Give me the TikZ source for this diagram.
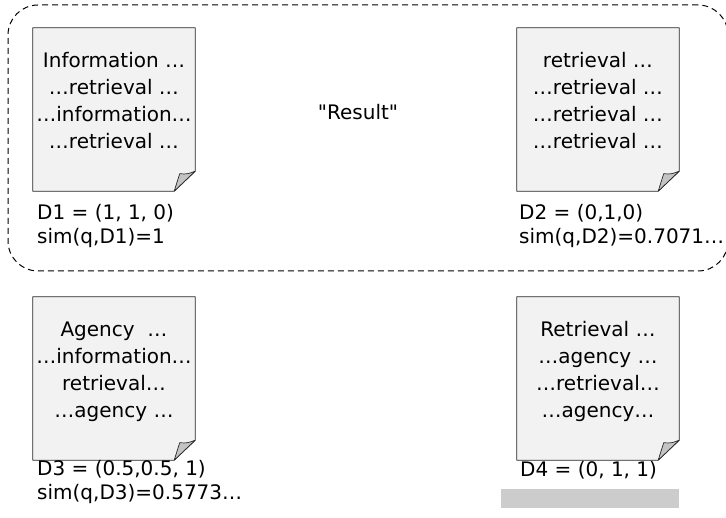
\documentclass[tikz,border=0pt]{standalone}
\usepackage{fontspec}
\setmainfont{DejaVu Sans}[Ligatures=TeXOff]
\usetikzlibrary{calc}
\definecolor{docfill}{HTML}{F2F2F2}
\definecolor{foldfill}{HTML}{C4C4C4}
\definecolor{blankfill}{HTML}{CCCCCC}
\newcommand\docshape[1]{%
  \filldraw[fill=docfill, draw=black!85, line width=0.8pt, line join=round]
    (#1.north west) -- (#1.north east) -- ([yshift=20pt]#1.south east)
    -- ([xshift=-21pt]#1.south east) -- (#1.south west) -- cycle;
  \filldraw[fill=foldfill, draw=black!85, line width=0.7pt, line join=round]
    ([xshift=-21pt]#1.south east)
    .. controls ([xshift=-18pt,yshift=8pt]#1.south east) .. ([xshift=-15.5pt,yshift=17.5pt]#1.south east)
    .. controls ([xshift=-8pt,yshift=17pt]#1.south east) .. ([yshift=20pt]#1.south east) -- cycle;
}
\begin{document}
\begin{tikzpicture}[x=1pt,y=-1pt,
  docbox/.style={rectangle, minimum width=162pt, minimum height=163pt, inner sep=0pt},
  doctext/.style={anchor=north, align=center, inner sep=0pt, font=\fontsize{20}{27}\selectfont},
  lbl/.style={anchor=base west, inner sep=0pt, font=\fontsize{20}{23}\selectfont},
  resultbox/.style={draw=black, dash pattern=on 6pt off 4pt, rounded corners=30pt, line width=1pt,
    minimum width=720pt, minimum height=266pt, inner sep=0pt},
  blankbox/.style={fill=blankfill, minimum width=178pt, minimum height=19pt, inner sep=0pt},
]
\useasboundingbox (0,0) rectangle (726,518);
\node[resultbox] (box) at (368,138) {};

\node[docbox] (d1) at (114,109.5) {};
\node[docbox] (d2) at (598,109.5) {};
\node[docbox] (d3) at (114,378.5) {};
\node[docbox] (d4) at (598,378.5) {};
\docshape{d1}
\docshape{d2}
\docshape{d3}
\docshape{d4}

\node[doctext] (t1) at ([yshift=-24.8pt]d1.north) {Information …\\…retrieval …\\…information…\\…retrieval …};
\node[doctext] (t2) at ([yshift=-24.8pt]d2.north) {retrieval …\\…retrieval …\\…retrieval …\\…retrieval …};
\node[doctext] (t3) at ([yshift=-24.8pt]d3.north) {Agency\ \ …\\…information…\\retrieval…\\…agency …};
\node[doctext] (t4) at ([yshift=-24.8pt]d4.north) {Retrieval …\\…agency …\\…retrieval…\\…agency…};

\node[font=\fontsize{20}{23}\selectfont, inner sep=0pt] (res) at (358,112) {"Result"};

\node[lbl] (l1a) at (37,220) {D1 = (1, 1, 0)};
\node[lbl] (l1b) at (37,244) {sim(q,D1)=1};
\node[lbl] (l2a) at (519,220) {D2 = (0,1,0)};
\node[lbl] (l2b) at (519,244) {sim(q,D2)=0.7071…};
\node[lbl] (l3a) at (37,476) {D3 = (0.5,0.5, 1)};
\node[lbl] (l3b) at (37,500) {sim(q,D3)=0.5773…};
\node[lbl] (l4a) at (520,477) {D4 = (0, 1, 1)};
\node[blankbox] (blank) at (590,498.5) {};
\end{tikzpicture}
\end{document}
